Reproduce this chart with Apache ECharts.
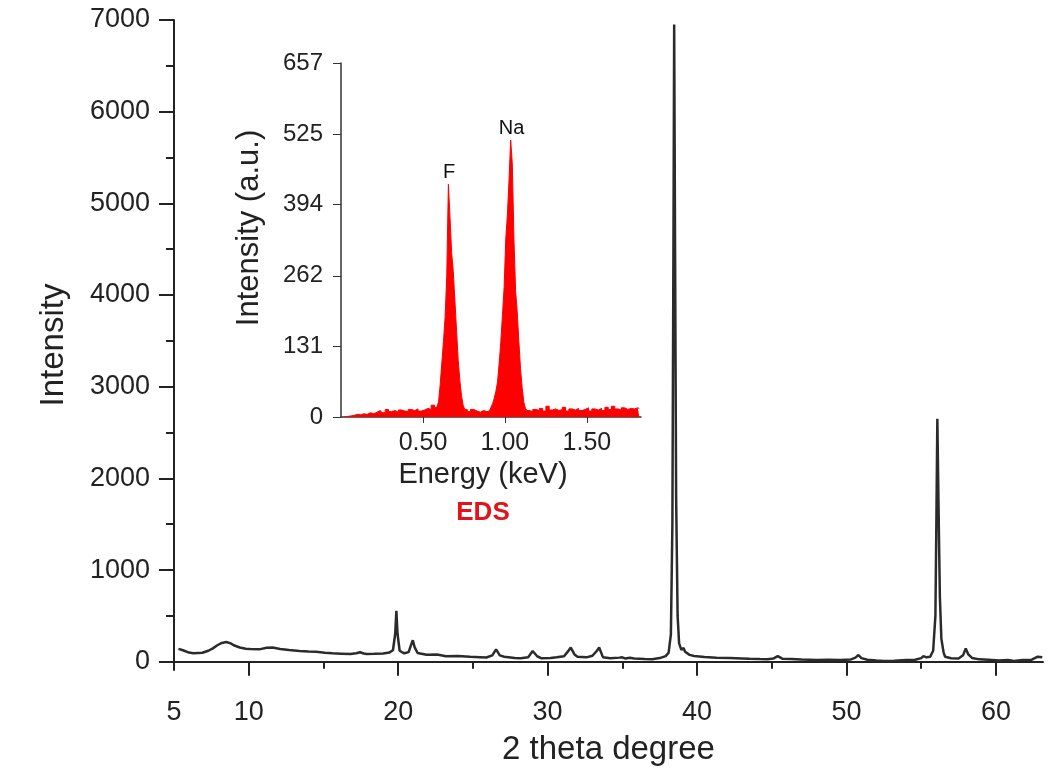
<!DOCTYPE html>
<html>
<head>
<meta charset="utf-8">
<script src="https://cdn.jsdelivr.net/npm/echarts@6/dist/echarts.min.js"></script>
<style>
  html, body { margin: 0; padding: 0; background: #fff; }
  #chart { width: 1049px; height: 780px; }
</style>
</head>
<body>
<div id="chart"></div>
<script>
// XRD pattern, [2 theta, intensity]
const xrdPattern = [
  [5.3, 140], [5.6, 125], [6.0, 100], [6.3, 92], [6.9, 98], [7.3, 120], [7.6, 146], [7.9, 180],
  [8.2, 205], [8.5, 215], [8.8, 200], [9.0, 180], [9.4, 155], [9.8, 142], [10.1, 138], [10.7, 135],
  [11.2, 152], [11.6, 155], [12.1, 140], [12.7, 128], [13.4, 117], [14.0, 112], [14.5, 108], [15.1, 98],
  [15.6, 92], [16.2, 88], [16.8, 84], [17.2, 92], [17.45, 104], [17.7, 90], [17.9, 84], [18.4, 86],
  [19.0, 90], [19.4, 100], [19.65, 125], [19.8, 300], [19.88, 555], [19.96, 300], [20.1, 120], [20.4, 92],
  [20.7, 105], [20.9, 200], [20.98, 235], [21.1, 160], [21.3, 95], [21.9, 76], [22.6, 80], [23.2, 60],
  [24.0, 62], [24.8, 55], [25.5, 50], [25.9, 46], [26.3, 70], [26.55, 135], [26.8, 70], [27.1, 55],
  [27.8, 42], [28.2, 38], [28.7, 50], [29.0, 118], [29.3, 60], [29.6, 38], [30.2, 40], [30.6, 48],
  [31.1, 60], [31.35, 110], [31.55, 155], [31.8, 80], [32.0, 55], [32.6, 48], [33.0, 65], [33.3, 120],
  [33.45, 155], [33.7, 50], [34.2, 37], [34.8, 45], [35.0, 48], [35.2, 35], [35.5, 44], [35.8, 36],
  [36.5, 30], [37.0, 28], [37.5, 40], [37.9, 62], [38.1, 100], [38.25, 300], [38.35, 1500], [38.42, 4500],
  [38.47, 6950], [38.53, 4500], [38.6, 1800], [38.7, 500], [38.8, 200], [38.95, 130], [39.1, 150], [39.2, 110],
  [39.5, 75], [39.8, 62], [40.5, 52], [41.3, 44], [42.2, 40], [43.0, 36], [43.5, 33], [44.2, 30],
  [44.7, 28], [45.1, 35], [45.4, 62], [45.7, 34], [46.3, 30], [47.0, 24], [48.0, 18], [48.8, 22],
  [49.6, 18], [50.3, 25], [50.6, 45], [50.8, 73], [51.0, 40], [51.4, 22], [52.0, 14], [52.5, 8],
  [53.2, 12], [54.0, 18], [54.6, 22], [55.0, 40], [55.15, 62], [55.35, 48], [55.6, 55], [55.8, 120],
  [55.95, 500], [56.02, 1600], [56.08, 2650], [56.15, 1800], [56.25, 700], [56.35, 250], [56.5, 100], [56.6, 55],
  [57.0, 38], [57.5, 36], [57.8, 70], [57.98, 146], [58.15, 80], [58.4, 42], [58.9, 26], [59.5, 22],
  [60.2, 14], [60.8, 20], [61.2, 8], [61.8, 18], [62.4, 22], [62.8, 55], [63.1, 48]
]
const xrdXLabels = [5, 10, 20, 30, 40, 50, 60]
const xrdXMajorTicks = [10, 20, 30, 40, 50, 60]
const xrdXMinorTicks = [15, 25, 35, 45, 55]
const xrdYLabels = [0, 1000, 2000, 3000, 4000, 5000, 6000, 7000]
const xrdYMinorTicks = [500, 1500, 2500, 3500, 4500, 5500, 6500]

// EDS inset, [keV, counts]
const edsSpectrum = [
  [0.02, 0], [0.04, 1], [0.06, 2], [0.08, 3], [0.10, 5], [0.12, 4], [0.14, 6], [0.16, 5],
  [0.18, 8], [0.20, 6], [0.22, 9], [0.24, 12], [0.26, 8], [0.28, 14], [0.30, 10], [0.32, 12],
  [0.34, 9], [0.36, 13], [0.38, 11], [0.40, 10], [0.42, 14], [0.44, 12], [0.46, 15], [0.48, 11],
  [0.50, 13], [0.52, 16], [0.54, 14], [0.56, 22], [0.58, 18],
  [0.59, 15], [0.60, 28], [0.61, 60], [0.62, 100], [0.63, 140], [0.64, 185], [0.65, 260], [0.66, 432],
  [0.67, 370], [0.68, 305], [0.69, 270], [0.70, 215], [0.71, 160], [0.72, 105], [0.73, 68], [0.74, 40],
  [0.75, 22], [0.76, 14],
  [0.78, 10], [0.80, 14], [0.82, 11], [0.84, 9], [0.86, 12], [0.88, 10], [0.90, 11],
  [0.91, 12], [0.92, 18], [0.93, 25], [0.94, 35], [0.95, 48], [0.96, 65], [0.97, 100], [0.98, 140],
  [0.99, 190], [1.00, 240], [1.01, 330], [1.02, 375], [1.03, 440], [1.04, 514], [1.05, 470], [1.06, 330],
  [1.07, 235], [1.08, 195], [1.09, 140], [1.10, 90], [1.11, 55], [1.12, 28], [1.13, 16], [1.14, 12],
  [1.16, 10], [1.18, 14], [1.20, 12], [1.22, 16], [1.24, 11], [1.26, 20], [1.28, 13], [1.30, 15],
  [1.32, 12], [1.34, 14], [1.36, 18], [1.38, 11], [1.40, 15], [1.42, 13], [1.44, 16], [1.46, 12],
  [1.48, 14], [1.50, 17], [1.52, 11], [1.54, 15], [1.56, 13], [1.58, 16], [1.60, 12], [1.62, 18],
  [1.64, 14], [1.66, 20], [1.68, 15], [1.70, 13], [1.72, 17], [1.74, 14], [1.76, 16], [1.78, 15],
  [1.80, 17], [1.82, 16]
]
const edsXTicks = [0.5, 1.0, 1.5]
const edsYTicks = [0, 131, 262, 394, 525, 657]
const edsPeaks = [
  {name: 'F', coord: [0.66, 432]},
  {name: 'Na', coord: [1.04, 514]}
]

const font = 'Liberation Sans, Arial, sans-serif'
const ink = '#222'

const chart = echarts.init(document.getElementById('chart'))

chart.setOption({
  animation: false,
  backgroundColor: '#fff',
  grid: [
    {left: 174, right: 6, top: 20, bottom: 110},
    {left: 341, top: 63, width: 300, height: 354}
  ],
  xAxis: [
    {
      gridIndex: 0, type: 'value', min: 5, max: 63.15,
      axisLine: {lineStyle: {color: ink, width: 2}},
      axisTick: {customValues: xrdXMajorTicks, length: 14, lineStyle: {color: ink, width: 2}},
      axisLabel: {customValues: xrdXLabels, fontSize: 27, color: ink, fontFamily: font, margin: 29},
      splitLine: {show: false},
      name: '2 theta degree', nameLocation: 'middle', nameGap: 63,
      nameTextStyle: {fontSize: 33, color: ink, fontFamily: font}
    },
    {
      gridIndex: 0, type: 'value', min: 5, max: 63.15, position: 'bottom',
      axisLine: {show: false},
      axisTick: {customValues: xrdXMinorTicks, length: 7, lineStyle: {color: ink, width: 2}},
      axisLabel: {show: false},
      splitLine: {show: false}
    },
    {
      gridIndex: 1, type: 'value', min: 0, max: 1.83,
      axisLine: {lineStyle: {color: '#333', width: 1.5}},
      axisTick: {customValues: edsXTicks, length: 6, lineStyle: {color: '#333'}},
      axisLabel: {customValues: edsXTicks, formatter: v => v.toFixed(2), fontSize: 25, color: ink, fontFamily: font, margin: 14},
      splitLine: {show: false},
      name: 'Energy (keV)', nameLocation: 'middle', nameGap: 43,
      nameTextStyle: {fontSize: 29, color: ink, fontFamily: font, padding: [0, 16, 0, 0]}
    }
  ],
  yAxis: [
    {
      gridIndex: 0, type: 'value', min: -90, max: 7000,
      axisLine: {show: true, lineStyle: {color: ink, width: 2}},
      axisTick: {show: true, customValues: xrdYLabels, length: 15, lineStyle: {color: ink, width: 2}},
      axisLabel: {customValues: xrdYLabels, formatter: v => String(v), fontSize: 27, color: ink, fontFamily: font, margin: 24},
      splitLine: {show: false},
      name: 'Intensity', nameLocation: 'middle', nameGap: 104,
      nameTextStyle: {fontSize: 33, color: ink, fontFamily: font}
    },
    {
      gridIndex: 0, type: 'value', min: -90, max: 7000, position: 'left',
      axisLine: {show: false},
      axisTick: {show: true, customValues: xrdYMinorTicks, length: 8, lineStyle: {color: ink, width: 2}},
      axisLabel: {show: false},
      splitLine: {show: false}
    },
    {
      gridIndex: 1, type: 'value', min: 0, max: 657,
      axisLine: {show: true, lineStyle: {color: '#333', width: 1.5}},
      axisTick: {show: true, customValues: edsYTicks, length: 8, lineStyle: {color: '#333'}},
      axisLabel: {customValues: edsYTicks, formatter: v => String(v), fontSize: 24, color: ink, fontFamily: font, margin: 18},
      splitLine: {show: false},
      name: 'Intensity (a.u.)', nameLocation: 'middle', nameGap: 76,
      nameTextStyle: {fontSize: 31, color: ink, fontFamily: font, padding: [0, 0, 0, 24]}
    }
  ],
  series: [
    {
      type: 'line', xAxisIndex: 0, yAxisIndex: 0,
      data: xrdPattern,
      showSymbol: false,
      lineStyle: {color: '#2b2b2b', width: 2.5}
    },
    {
      type: 'line', xAxisIndex: 2, yAxisIndex: 2,
      data: edsSpectrum,
      showSymbol: false,
      step: 'middle',
      lineStyle: {color: '#f00', width: 1},
      areaStyle: {color: '#f00', opacity: 1},
      markPoint: {
        symbol: 'circle', symbolSize: 0,
        label: {show: true, formatter: '{b}', position: 'top', distance: 2, color: '#111', fontSize: 20, fontFamily: font},
        data: edsPeaks
      }
    }
  ],
  graphic: [
    {
      type: 'text', x: 483, y: 513,
      style: {text: 'EDS', fill: '#e3131b', font: 'bold 26px Liberation Sans, Arial, sans-serif', textAlign: 'center', textVerticalAlign: 'middle'}
    }
  ]
})
</script>
</body>
</html>
